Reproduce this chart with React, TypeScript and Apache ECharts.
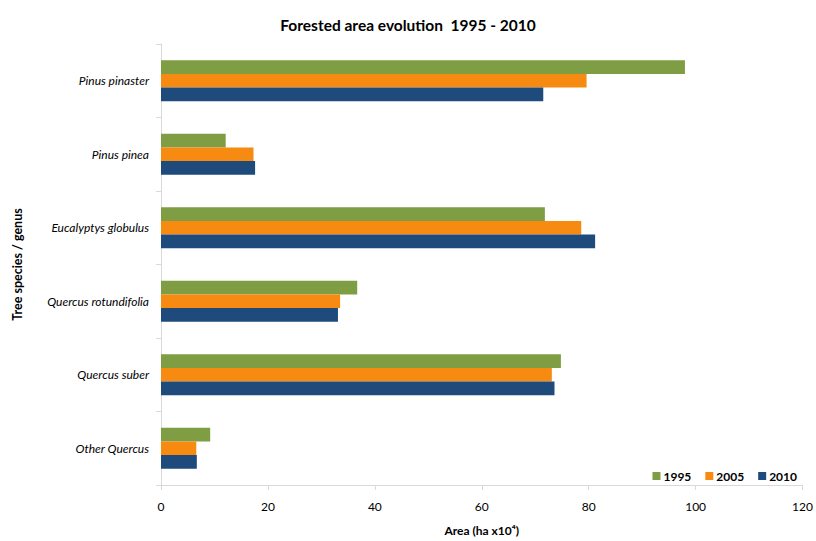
import React, { useEffect, useRef } from "react";
import * as echarts from "echarts";

const categories = [
  "Pinus pinaster",
  "Pinus pinea",
  "Eucalyptys globulus",
  "Quercus rotundifolia",
  "Quercus suber",
  "Other Quercus",
];
const seriesNames = ["1995", "2005", "2010"];
const values1995 = [98, 12.1, 71.8, 36.7, 74.8, 9.2];
const values2005 = [79.6, 17.3, 78.6, 33.5, 73.1, 6.6];
const values2010 = [71.5, 17.6, 81.2, 33.1, 73.6, 6.7];
const colors = ["#7F9D43", "#F78A10", "#1F4A7C"];
const xTicks = { min: 0, max: 120, interval: 20 };

const FONT = "Lato, 'Open Sans', sans-serif";

export default function App() {
  const ref = useRef<HTMLDivElement>(null);
  useEffect(() => {
    if (!ref.current) return;
    const chart = echarts.init(ref.current, null, { renderer: "svg" });
    const data = [values1995, values2005, values2010];
    chart.setOption({
      animation: false,
      textStyle: { fontFamily: FONT },
      title: {
        text: "Forested area evolution  1995 - 2010",
        left: "center",
        top: 12,
        textStyle: { fontFamily: FONT, fontSize: 15.5, fontWeight: "bold", color: "#000" },
      },
      legend: {
        right: 14,
        top: 465,
        itemWidth: 8,
        itemHeight: 8,
        itemGap: 14,
        icon: "rect",
        textStyle: { fontFamily: FONT, fontSize: 12, fontWeight: "bold", color: "#000", padding: [0, 0, 0, -2] },
        data: seriesNames,
      },
      grid: { left: 161, right: 12, top: 44, bottom: 51, containLabel: false },
      xAxis: {
        type: "value",
        min: xTicks.min,
        max: xTicks.max,
        interval: xTicks.interval,
        name: "Area (ha x10⁴)",
        nameLocation: "middle",
        nameGap: 39,
        nameTextStyle: { fontFamily: FONT, fontSize: 12, fontWeight: "bold", color: "#000" },
        axisLine: { show: true, lineStyle: { color: "#D9D9D9", width: 1 } },
        axisTick: { show: true, length: 5, inside: false, lineStyle: { color: "#D9D9D9" } },
        axisLabel: { fontFamily: FONT, fontSize: 12, color: "#000", margin: 15 },
        splitLine: { show: false },
      },
      yAxis: {
        type: "category",
        data: categories,
        inverse: true,
        name: "Tree species / genus",
        nameLocation: "middle",
        nameGap: 137,
        nameRotate: 90,
        nameTextStyle: { fontFamily: FONT, fontSize: 12.5, fontWeight: "bold", color: "#000" },
        axisLine: { show: true, lineStyle: { color: "#D9D9D9", width: 1 } },
        axisTick: { show: true, length: 5, alignWithLabel: false, lineStyle: { color: "#D9D9D9" } },
        axisLabel: { fontFamily: FONT, fontSize: 12, fontStyle: "italic", color: "#000", margin: 12 },
      },
      series: seriesNames.map((n, i) => ({
        name: n,
        type: "bar",
        data: data[i],
        barGap: "0%",
        barCategoryGap: "44%",
        itemStyle: { color: colors[i] },
      })),
    });
    return () => chart.dispose();
  }, []);
  return <div ref={ref} style={{ width: 816, height: 541, position: "absolute", left: 0, top: 0, background: "#fff" }} />;
}
